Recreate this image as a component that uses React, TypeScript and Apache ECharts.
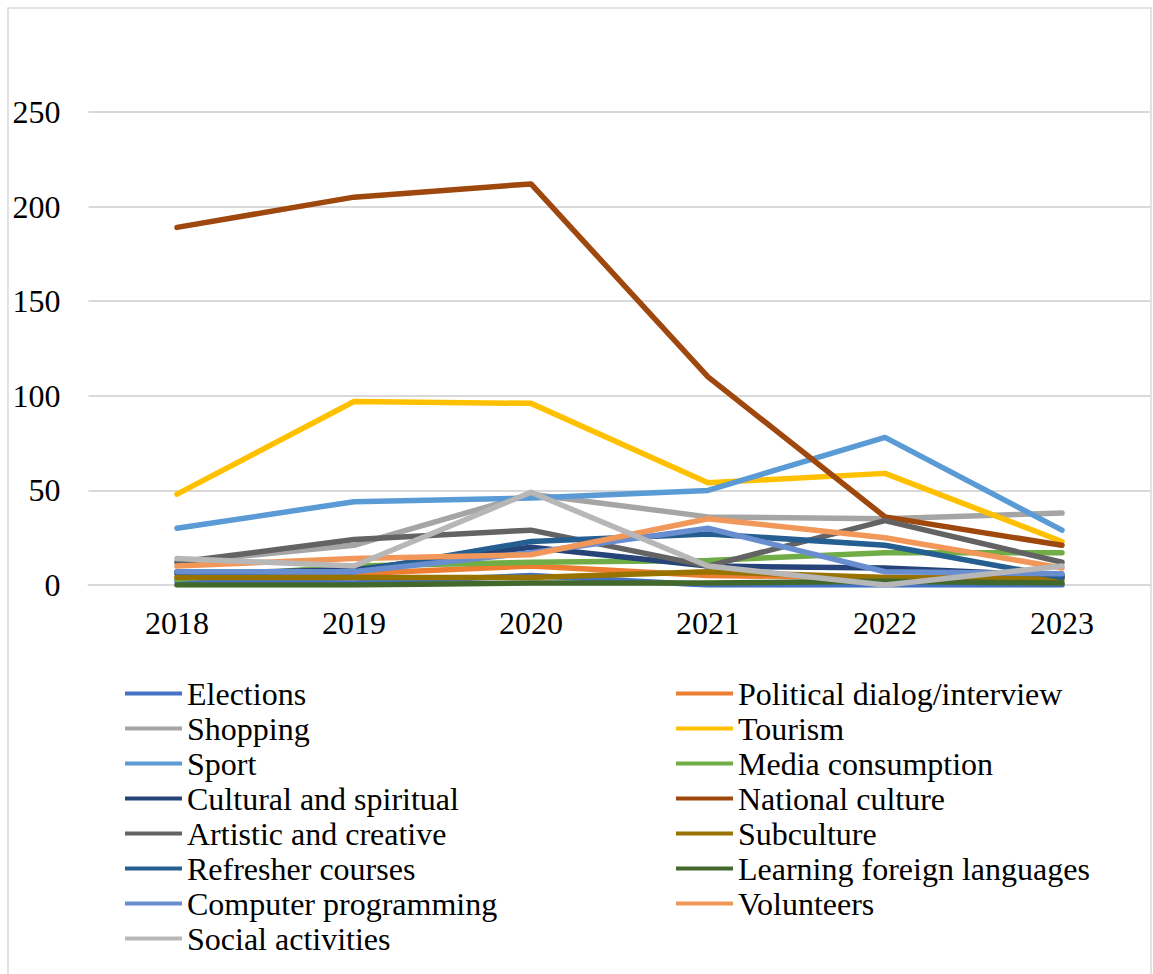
import React, { useEffect, useRef } from "react";
import * as echarts from "echarts";

const years = ["2018", "2019", "2020", "2021", "2022", "2023"];

const elections = [2, 1, 5, 0, 0, 0];
const politicalDialog = [4, 6, 10, 5, 4, 4];
const shopping = [12, 21, 48, 36, 35, 38];
const tourism = [48, 97, 96, 54, 59, 23];
const sport = [30, 44, 46, 50, 78, 29];
const mediaConsumption = [3, 10, 12, 13, 17, 17];
const culturalSpiritual = [6, 8, 20, 10, 9, 5];
const nationalCulture = [189, 205, 212, 110, 36, 21];
const artisticCreative = [12, 24, 29, 10, 34, 12];
const subculture = [4, 4, 4, 7, 4, 3];
const refresherCourses = [7, 7, 23, 27, 21, 4];
const learningLanguages = [0, 0, 1, 1, 2, 1];
const computerProgramming = [7, 7, 17, 30, 7, 6];
const volunteers = [10, 14, 16, 35, 25, 9];
const socialActivities = [14, 10, 49, 10, 0, 10];

const seriesDefs = [
  { name: "Elections", data: elections, color: "#4472C4" },
  { name: "Political dialog/interview", data: politicalDialog, color: "#ED7D31" },
  { name: "Shopping", data: shopping, color: "#A5A5A5" },
  { name: "Tourism", data: tourism, color: "#FFC000" },
  { name: "Sport", data: sport, color: "#5B9BD5" },
  { name: "Media consumption", data: mediaConsumption, color: "#70AD47" },
  { name: "Cultural and spiritual", data: culturalSpiritual, color: "#264478" },
  { name: "National culture", data: nationalCulture, color: "#9E480E" },
  { name: "Artistic and creative", data: artisticCreative, color: "#636363" },
  { name: "Subculture", data: subculture, color: "#997300" },
  { name: "Refresher courses", data: refresherCourses, color: "#255E91" },
  { name: "Learning foreign languages", data: learningLanguages, color: "#43682B" },
  { name: "Computer programming", data: computerProgramming, color: "#698ED0" },
  { name: "Volunteers", data: volunteers, color: "#F1975A" },
  { name: "Social activities", data: socialActivities, color: "#B7B7B7" },
];

const leftLegend = seriesDefs.filter((_, i) => i % 2 === 0).map((s) => s.name);
const rightLegend = seriesDefs.filter((_, i) => i % 2 === 1).map((s) => s.name);

const FONT = "'Liberation Serif', 'Times New Roman', serif";

export default function App() {
  const ref = useRef<HTMLDivElement>(null);
  useEffect(() => {
    document.body.style.margin = "0";
    const chart = echarts.init(ref.current!, null, { renderer: "svg" });
    const legendCommon = {
      orient: "vertical" as const,
      top: 671,
      itemWidth: 57,
      itemHeight: 14,
      itemGap: 0,
      textStyle: { fontFamily: FONT, fontSize: 32, color: "#000", lineHeight: 35 },
      icon: "path://M0,0 L57,0 L57,4 L0,4 Z",
    };
    chart.setOption({
      animation: false,
      backgroundColor: "#fff",
      grid: { left: 88.5, right: 2.5, top: 112, bottom: 389, containLabel: false },
      xAxis: {
        type: "category",
        data: years,
        boundaryGap: true,
        axisLine: { lineStyle: { color: "#d9d9d9", width: 2 } },
        axisTick: { show: false },
        axisLabel: { fontFamily: FONT, fontSize: 32, color: "#000", margin: 22 },
      },
      yAxis: {
        type: "value",
        min: 0,
        max: 250,
        interval: 50,
        axisLine: { show: false },
        axisTick: { show: false },
        splitLine: { lineStyle: { color: "#d9d9d9", width: 2 } },
        axisLabel: { fontFamily: FONT, fontSize: 32, color: "#000", margin: 28 },
      },
      legend: [
        { ...legendCommon, left: 120, data: leftLegend },
        { ...legendCommon, left: 671, data: rightLegend },
      ],
      graphic: [
        {
          type: "rect",
          shape: { x: 8, y: 8, width: 1143, height: 975 },
          style: { fill: "none", stroke: "#d9d9d9", lineWidth: 1.5 },
          silent: true,
        },
      ],
      series: seriesDefs.map((s) => ({
        name: s.name,
        type: "line",
        data: s.data,
        symbol: "none",
        showSymbol: false,
        color: s.color,
        lineStyle: { width: 5.5, color: s.color, cap: "round", join: "round" },
        itemStyle: { color: s.color },
      })),
    });
    return () => chart.dispose();
  }, []);
  return <div ref={ref} style={{ width: 1153, height: 974, position: "absolute", left: 0, top: 0 }} />;
}
